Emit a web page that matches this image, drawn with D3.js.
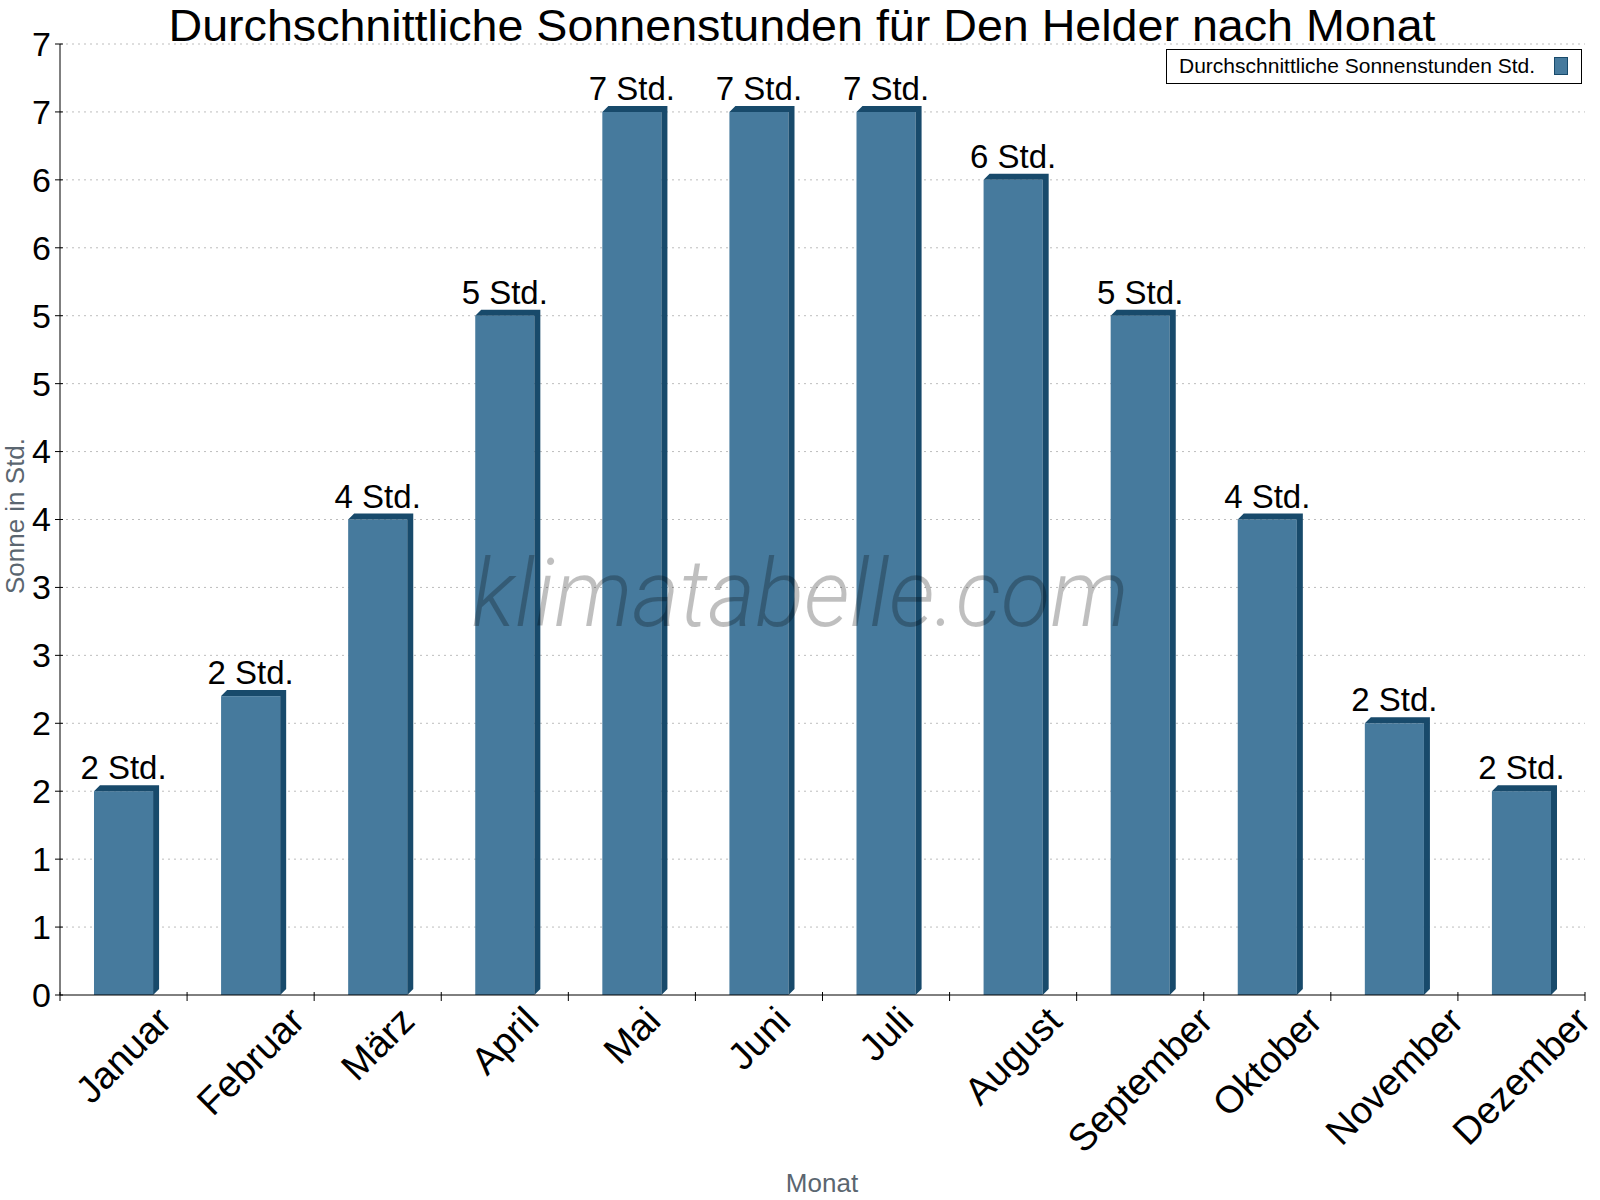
<!DOCTYPE html>
<html>
<head>
<meta charset="utf-8">
<script src="https://cdn.jsdelivr.net/npm/d3@7"></script>
<style>
  body { margin: 0; background: #fff; }
  text { font-family: "Liberation Sans", Arial, sans-serif; }
</style>
</head>
<body>
<script>
// chart data
const months = ["Januar", "Februar", "März", "April", "Mai", "Juni", "Juli", "August", "September", "Oktober", "November", "Dezember"];
const sunHours = [1.5, 2.2, 3.5, 5.0, 6.5, 6.5, 6.5, 6.0, 5.0, 3.5, 2.0, 1.5];
const valueLabels = ["2 Std.", "2 Std.", "4 Std.", "5 Std.", "7 Std.", "7 Std.", "7 Std.", "6 Std.", "5 Std.", "4 Std.", "2 Std.", "2 Std."];
const yTicks = [0, 0.5, 1, 1.5, 2, 2.5, 3, 3.5, 4, 4.5, 5, 5.5, 6, 6.5, 7];
const yTickLabels = ["0", "1", "1", "2", "2", "3", "3", "4", "4", "5", "5", "6", "6", "7", "7"];

const W = 1600, H = 1200;
const plotL = 60, plotR = 1585, plotT = 44, plotB = 995;
const depth = 6;
const front = "#467a9d", dark = "#184a6b";

const svg = d3.select("body").append("svg")
    .attr("width", W)
    .attr("height", H);

const x = d3.scaleBand().domain(months).range([plotL, plotR]);
const y = d3.scaleLinear().domain([0, 7]).range([plotB, plotT]);
const barW = x.bandwidth() * 0.465;

// gridlines
svg.append("g").selectAll("line")
    .data(yTicks.filter(d => d > 0))
    .enter().append("line")
    .attr("x1", plotL).attr("x2", plotR)
    .attr("y1", d => y(d)).attr("y2", d => y(d))
    .attr("stroke", "#bdbdbd")
    .attr("stroke-dasharray", "2,4");

// bars with a bit of 3d
const bars = svg.append("g").selectAll("g")
    .data(months)
    .enter().append("g");

bars.append("rect")
    .attr("x", d => x(d) + (x.bandwidth() - barW) / 2)
    .attr("y", (d, i) => y(sunHours[i]))
    .attr("width", barW)
    .attr("height", (d, i) => plotB - y(sunHours[i]))
    .attr("fill", front);

bars.append("path")
    .attr("fill", dark)
    .attr("d", (d, i) => {
        const x0 = x(d) + (x.bandwidth() - barW) / 2, x1 = x0 + barW, t = y(sunHours[i]);
        return `M${x0},${t} L${x0 + depth},${t - depth} L${x1 + depth},${t - depth} L${x1 + depth},${plotB - depth} L${x1},${plotB} L${x1},${t} Z`;
    });

// watermark
svg.append("text")
    .attr("x", 800)
    .attr("y", 626)
    .attr("text-anchor", "middle")
    .attr("font-size", 94)
    .attr("font-style", "italic")
    .attr("font-weight", 300)
    .style("font-family", "Roboto, 'Open Sans', sans-serif")
    .attr("fill", "rgba(0,0,0,0.25)")
    .attr("textLength", 657)
    .attr("lengthAdjust", "spacingAndGlyphs")
    .text("klimatabelle.com");

// value labels
svg.append("g").selectAll("text")
    .data(months)
    .enter().append("text")
    .attr("x", d => x(d) + x.bandwidth() / 2)
    .attr("y", (d, i) => y(sunHours[i]) - depth - 6)
    .attr("text-anchor", "middle")
    .attr("font-size", 33)
    .text((d, i) => valueLabels[i]);

// axes
svg.append("line").attr("x1", plotL).attr("x2", plotL).attr("y1", plotT).attr("y2", plotB).attr("stroke", "#000");
svg.append("line").attr("x1", plotL).attr("x2", plotR).attr("y1", plotB).attr("y2", plotB).attr("stroke", "#000");

svg.append("g").selectAll("line")
    .data(yTicks)
    .enter().append("line")
    .attr("x1", plotL - 5).attr("x2", plotL + 3)
    .attr("y1", d => y(d)).attr("y2", d => y(d))
    .attr("stroke", "#000");

svg.append("g").selectAll("text")
    .data(yTicks)
    .enter().append("text")
    .attr("x", plotL - 9)
    .attr("y", d => y(d))
    .attr("dy", "0.35em")
    .attr("text-anchor", "end")
    .attr("font-size", 34)
    .text((d, i) => yTickLabels[i]);

const bounds = months.map(m => x(m)).concat([plotR]);
svg.append("g").selectAll("line")
    .data(bounds)
    .enter().append("line")
    .attr("x1", d => d).attr("x2", d => d)
    .attr("y1", plotB - 3).attr("y2", plotB + 6)
    .attr("stroke", "#000");

// rotated month labels, centred under the band
months.forEach(m => {
    const g = svg.append("g");
    g.append("text")
        .attr("text-anchor", "middle")
        .attr("dy", "0.35em")
        .attr("transform", "rotate(-45)")
        .attr("font-size", 38)
        .text(m);
    const b = g.node().getBBox();
    const cx = x(m) + x.bandwidth() / 2;
    g.attr("transform", `translate(${cx - (b.x + b.width / 2)},${999 - b.y})`);
});

// titles
svg.append("text")
    .attr("x", 802).attr("y", 41)
    .attr("text-anchor", "middle")
    .attr("font-size", 45)
    .attr("textLength", 1267)
    .attr("lengthAdjust", "spacingAndGlyphs")
    .text("Durchschnittliche Sonnenstunden für Den Helder nach Monat");

svg.append("text")
    .attr("transform", "translate(24,516) rotate(-90)")
    .attr("text-anchor", "middle")
    .attr("font-size", 26)
    .attr("fill", "#5b6670")
    .text("Sonne in Std.");

svg.append("text")
    .attr("x", 822).attr("y", 1192)
    .attr("text-anchor", "middle")
    .attr("font-size", 26)
    .attr("fill", "#5b6670")
    .text("Monat");

// legend
const lg = svg.append("g");
lg.append("rect")
    .attr("x", 1166.5).attr("y", 49.5)
    .attr("width", 415).attr("height", 34)
    .attr("fill", "#fff").attr("stroke", "#000");
lg.append("text")
    .attr("x", 1179).attr("y", 73)
    .attr("font-size", 21)
    .text("Durchschnittliche Sonnenstunden Std.");
lg.append("rect")
    .attr("x", 1554.5).attr("y", 57.5)
    .attr("width", 13).attr("height", 17)
    .attr("fill", front).attr("stroke", dark);
</script>
</body>
</html>
